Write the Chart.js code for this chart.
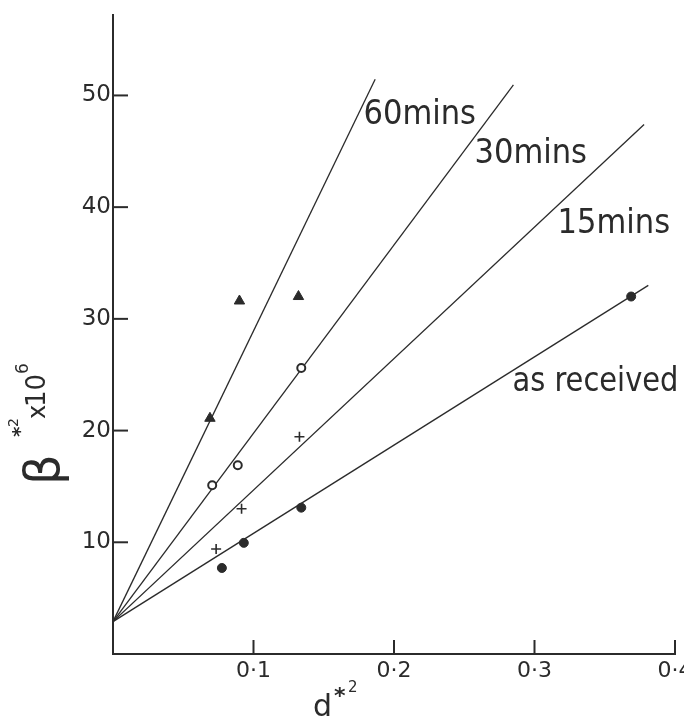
<!DOCTYPE html>
<html>
<head>
<meta charset="utf-8">
<script src="https://cdn.jsdelivr.net/npm/chart.js@4.4.0/dist/chart.umd.min.js"></script>
<style>
  html, body { margin: 0; padding: 0; background: #fff; }
  canvas { display: block; }
</style>
</head>
<body>
<canvas id="chart" width="684" height="718"></canvas>
<script>
// --- data ---
const xTicks = [0.1, 0.2, 0.3, 0.4];
const yTicks = [10, 20, 30, 40, 50];

// fitted lines: all start from the same intercept on the y axis
const fitNames = ['60mins', '30mins', '15mins', 'as received'];
const fitStartX = 0;
const fitStartY = 2.9;
const fitEndX = [0.1866, 0.285, 0.378, 0.381];
const fitEndY = [51.45, 50.94, 47.4, 33.0];

// label anchors (data units) for the line names
const labelX = [0.1783, 0.2573, 0.3164, 0.2843];
const labelY = [47.4, 43.96, 37.7, 23.5];

// measured points
const triX = [0.069, 0.090, 0.132];
const triY = [21.1, 31.6, 32.0];
const openX = [0.0706, 0.0888, 0.134];
const openY = [15.1, 16.9, 25.6];
const plusX = [0.0734, 0.0915, 0.1327];
const plusY = [9.4, 13.0, 19.45];
const dotX = [0.0775, 0.0931, 0.134, 0.3688];
const dotY = [7.7, 9.95, 13.1, 32.0];

const ink = '#2b2b2b';
const tickFont = '"DejaVu Sans", sans-serif';
const labelFont = '"DejaVu Sans Condensed", "DejaVu Sans", sans-serif';

const pts = (xs, ys) => xs.map((x, i) => ({ x: x, y: ys[i] }));

const datasets = [
  { data: pts(triX, triY), pointStyle: 'triangle', pointRadius: 6, backgroundColor: ink, borderColor: ink, borderWidth: 1 },
  { data: pts(openX, openY), pointStyle: 'circle', pointRadius: 4, backgroundColor: '#fff', borderColor: ink, borderWidth: 2 },
  { data: pts(plusX, plusY), pointStyle: 'cross', pointRadius: 5, borderColor: ink, borderWidth: 1.6 },
  { data: pts(dotX, dotY), pointStyle: 'circle', pointRadius: 4.5, backgroundColor: ink, borderColor: ink, borderWidth: 1 }
];
fitNames.forEach((name, i) => {
  datasets.push({
    label: name,
    data: [{ x: fitStartX, y: fitStartY }, { x: fitEndX[i], y: fitEndY[i] }],
    showLine: true,
    pointRadius: 0,
    borderColor: ink,
    borderWidth: 1.3
  });
});

// ticks drawn inward, line names and axis titles
const decorations = {
  id: 'decorations',
  afterDraw(chart) {
    const ctx = chart.ctx;
    const xs = chart.scales.x, ys = chart.scales.y;
    const a = chart.chartArea;
    ctx.save();
    ctx.strokeStyle = ink;
    ctx.lineWidth = 2;
    yTicks.forEach(v => {
      const py = ys.getPixelForValue(v);
      ctx.beginPath(); ctx.moveTo(a.left, py); ctx.lineTo(a.left + 15, py); ctx.stroke();
    });
    xTicks.forEach(v => {
      const px = xs.getPixelForValue(v);
      ctx.beginPath(); ctx.moveTo(px, a.bottom); ctx.lineTo(px, a.bottom - 14); ctx.stroke();
    });

    ctx.fillStyle = ink;
    ctx.textBaseline = 'alphabetic';
    ctx.textAlign = 'left';
    ctx.font = '34px ' + labelFont;
    fitNames.forEach((name, i) => {
      // keep the long label inside the page, as in the original
      const maxW = name.length > 8 ? 166 : undefined;
      const px = xs.getPixelForValue(labelX[i]), py = ys.getPixelForValue(labelY[i]);
      if (maxW) ctx.fillText(name, px, py, maxW); else ctx.fillText(name, px, py);
    });

    // x title  d*²
    ctx.font = '30px ' + tickFont;
    ctx.fillText('d', 313, 716);
    ctx.font = 'bold 22px ' + tickFont;
    ctx.fillText('*', 334, 703);
    ctx.font = '15px ' + tickFont;
    ctx.fillText('2', 348, 692);

    // y title  β*² x 10⁶ (rotated)
    const up = (text, font, bx, py) => {
      ctx.save();
      ctx.translate(bx, py);
      ctx.rotate(-Math.PI / 2);
      ctx.font = font;
      ctx.fillText(text, 0, 0);
      ctx.restore();
    };
    up('β', '48px ' + tickFont, 59, 485);
    up('*', 'bold 20px ' + tickFont, 26, 437);
    up('2', '14px ' + tickFont, 18, 427);
    up('x', '24px ' + tickFont, 45, 419);
    up('10', '26px ' + tickFont, 45, 407);
    up('6', '17px ' + tickFont, 28, 374);
    ctx.restore();
  }
};

new Chart(document.getElementById('chart'), {
  type: 'scatter',
  data: { datasets: datasets },
  options: {
    responsive: false,
    animation: false,
    events: [],
    layout: { padding: { top: 15, right: 9, left: 0, bottom: 0 } },
    plugins: { legend: { display: false }, tooltip: { enabled: false } },
    scales: {
      x: {
        type: 'linear', min: 0, max: 0.4,
        grid: { display: false, drawTicks: false },
        border: { display: true, color: ink, width: 2 },
        afterBuildTicks: s => { s.ticks = xTicks.map(v => ({ value: v })); },
        afterFit: s => { s.height = 64; s.paddingLeft = 0; s.paddingRight = 0; },
        ticks: {
          color: ink, padding: 4, maxRotation: 0,
          font: { family: tickFont, size: 22 },
          callback: v => v.toFixed(1).replace('.', '·')
        }
      },
      y: {
        type: 'linear', min: 0, max: 57.2,
        grid: { display: false, drawTicks: false },
        border: { display: true, color: ink, width: 2 },
        afterBuildTicks: s => { s.ticks = yTicks.map(v => ({ value: v })); },
        afterFit: s => { s.width = 113; s.paddingTop = 0; s.paddingBottom = 0; },
        ticks: {
          color: ink, padding: 2,
          font: { family: tickFont, size: 23 },
          callback: v => String(v)
        }
      }
    }
  },
  plugins: [decorations]
});
</script>
</body>
</html>
